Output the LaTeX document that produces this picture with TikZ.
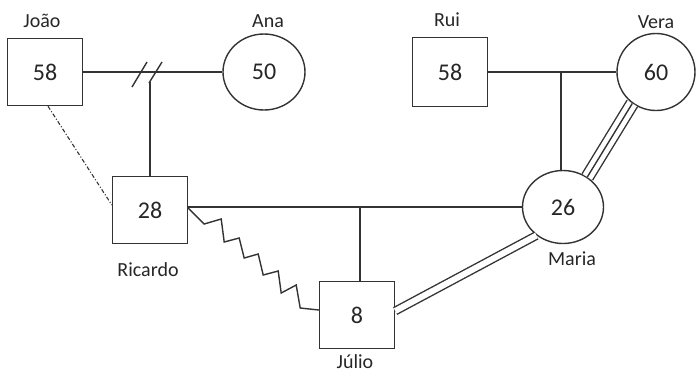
\documentclass[tikz,border=0pt]{standalone}
\usepackage{fontspec}
\setmainfont{Carlito}
\usetikzlibrary{shapes.geometric,calc}
\definecolor{lc}{HTML}{333333}
\definecolor{tc}{HTML}{262626}
\begin{document}
\begin{tikzpicture}[x=1pt,y=-1pt,
  ln/.style={draw=lc, line width=1.4pt},
  male/.style={rectangle, draw=lc, line width=1.4pt, minimum width=75pt, minimum height=67pt, inner sep=0pt, font=\fontsize{24}{24}\selectfont, text=tc},
  female/.style={ellipse, draw=lc, line width=1.4pt, inner sep=0pt, font=\fontsize{24}{24}\selectfont, text=tc},
  lab/.style={font=\fontsize{20}{20}\selectfont, text=tc}]
\useasboundingbox (0,0) rectangle (696,376);
% persons
\node[male] (jo) at (45,72) {58};
\node[female, minimum width=82pt, minimum height=76pt] (an) at (264,72) {50};
\node[male, minimum height=69pt] (ru) at (450,72) {58};
\node[female, minimum width=78pt, minimum height=77pt] (ve) at (656,72) {60};
\node[male] (ri) at (150,210) {28};
\node[female, minimum width=81pt, minimum height=73pt] (ma) at (563,207) {26};
\node[male] (ju) at (357,315) {8};
% labels
\node[lab] (ljo) at (42,21) {João};
\node[lab] (lan) at (268,21) {Ana};
\node[lab] (lru) at (447,20) {Rui};
\node[lab] (lve) at (656,22) {Vera};
\node[lab] (lri) at (148,270) {Ricardo};
\node[lab] (lma) at (572,259) {Maria};
\node[lab] (lju) at (355,362) {Júlio};
% João -- Ana (divorced)
\draw[ln] (jo.east) -- (an.west);
\coordinate (s1) at (139.5,74.5);
\coordinate (s2) at (155.5,72.5);
\draw[ln] ($(s1)+(-7.5,12.5)$) -- ($(s1)+(7.5,-12.5)$);
\draw[ln] ($(s2)+(-6.5,10.5)$) -- ($(s2)+(6.5,-10.5)$);
\coordinate (vt) at (150,82);
\draw[ln] (vt) -- (vt |- ri.north);
% João .. Ricardo
\draw[draw=lc, line width=1.1pt, dash pattern=on 4pt off 2pt on 1pt off 2pt] ([xshift=3pt]jo.south) -- ([yshift=5pt]ri.west);
% Ricardo -- Maria
\draw[ln] (ri.east |- ma.west) -- (ma.west);
\coordinate (vj) at (360,207);
\draw[ln] (vj) -- (vj |- ju.north);
% Rui -- Vera
\draw[ln] (ru.east) -- (ve.west);
\coordinate (vr) at (561,72);
\draw[ln] (vr) -- (vr |- ma.north);
% zigzag Ricardo -- Júlio
\draw[ln, line join=miter] ([yshift=2pt]ri.east) -- ++(16,16) -- ++(17,-5) -- ++(3,23) -- ++(15,-4) -- ++(5,20) -- ++(14,-4) -- ++(5,21) -- ++(15,-4) -- ++(3,22) -- ++(15,-8) -- ++(4,23) -- ([yshift=5pt]ju.west);
% Maria = Júlio
\draw[ln, double=white, double distance=6pt] (ma.227) -- ([yshift=4pt]ju.east);
% Vera === Maria
\draw[ln, double=white, double distance=10.8pt] (ve.233) -- (ma.51);
\draw[ln] (ve.233) -- (ma.51);
\end{tikzpicture}
\end{document}
